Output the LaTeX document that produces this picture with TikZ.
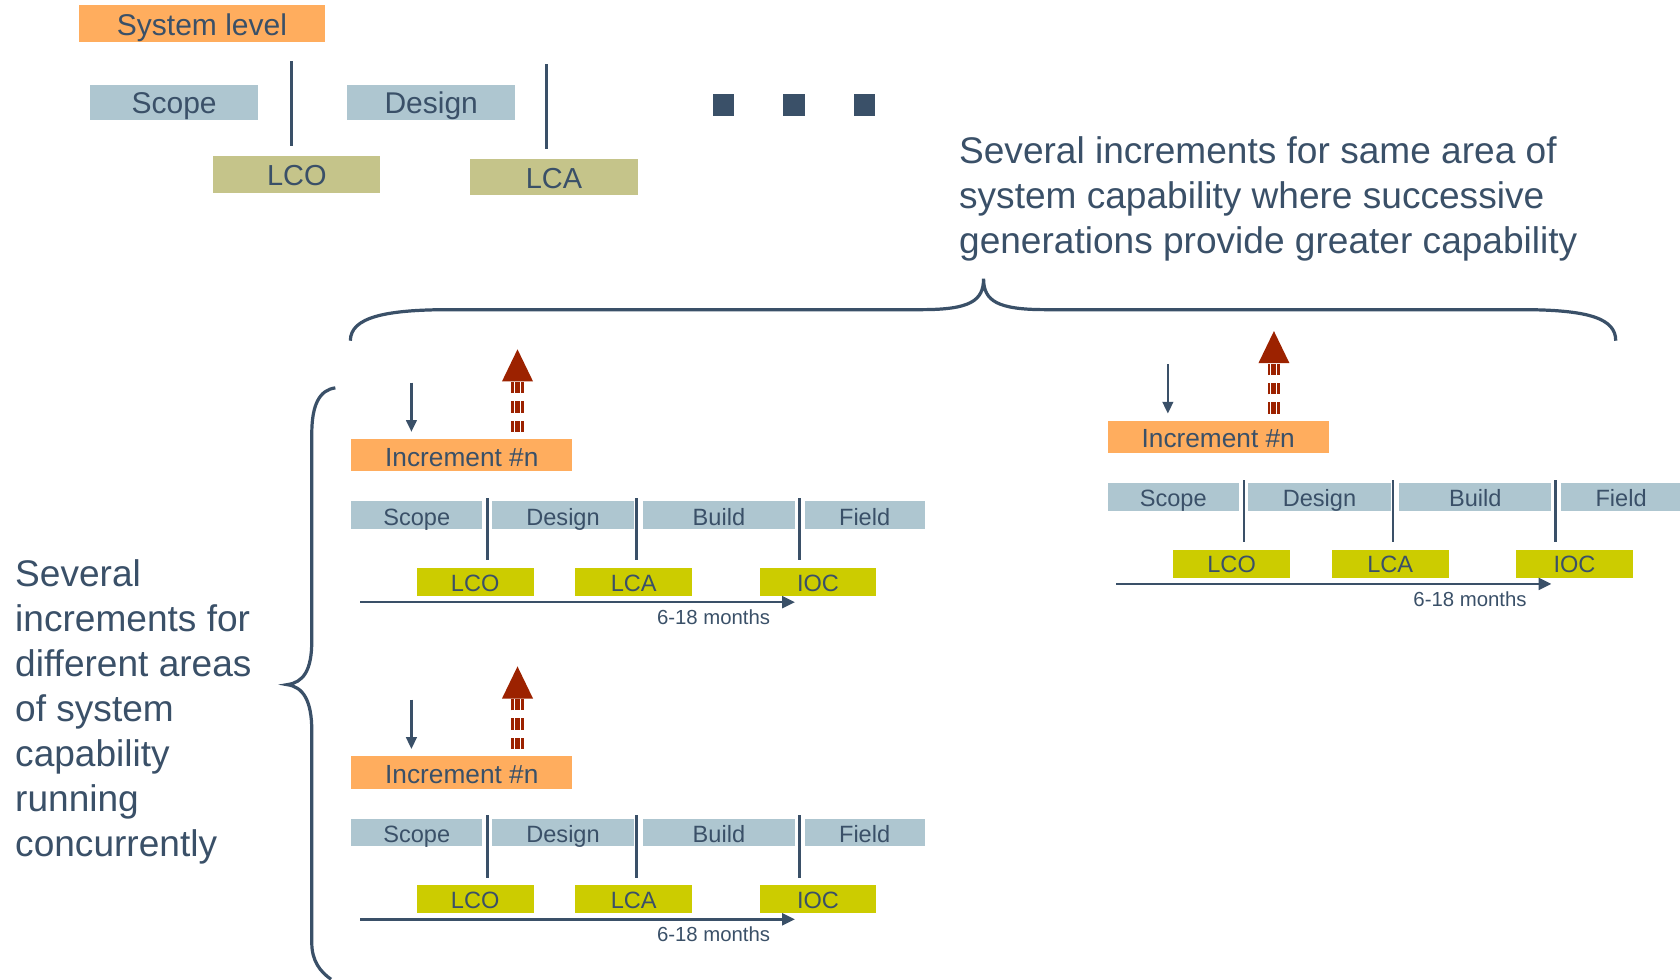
\documentclass[tikz,border=0pt]{standalone}
\usepackage{fontspec}
\setmainfont{Liberation Sans}
\usetikzlibrary{arrows.meta}

\definecolor{ink}{HTML}{3A5068}
\definecolor{incorange}{HTML}{FFAD5E}
\definecolor{phaseblue}{HTML}{AEC6D0}
\definecolor{olivems}{HTML}{C5C48A}
\definecolor{yellowms}{HTML}{CCCC00}
\definecolor{deepred}{HTML}{9C2200}

\newcommand\fs[1]{\fontsize{#1}{#1}\selectfont}

\tikzset{
  box/.style={rectangle, inner sep=0pt, draw=none, text=ink, text depth=0pt},
  sysbox/.style={box, fill=incorange, font=\fs{28}, text height=21.5pt},
  topphase/.style={box, fill=phaseblue, font=\fs{28}, text height=21.5pt},
  topms/.style={box, fill=olivems, font=\fs{27}, text height=21pt},
  incbox/.style={box, fill=incorange, font=\fs{24.5}, text height=20pt},
  phase/.style={box, fill=phaseblue, font=\fs{22}, text height=18pt},
  msbox/.style={box, fill=yellowms, font=\fs{22}, text height=17.5pt},
  monthlabel/.style={inner sep=0pt, text=ink, font=\fs{19}},
  dotbox/.style={rectangle, inner sep=0pt, fill=ink, minimum size=20pt},
  sepline/.style={draw=ink, line width=2.5pt},
  inarrow/.style={draw=ink, line width=2pt, -{Triangle[width=10pt,length=11pt]}},
  timeline/.style={draw=ink, line width=2.5pt, -{Triangle[width=11pt,length=12pt]}},
  redshaft/.style={draw=deepred, line width=12pt, dash pattern=on 10.5pt off 7.5pt},
  shaftgap/.style={draw=white, line width=0.9pt},
  bracepath/.style={draw=ink, line width=3pt},
  bigtext/.style={inner sep=0pt, text=ink, align=left, font=\fontsize{34.6}{42}\selectfont},
}

% One increment: its phases, gates, milestones, time line and in/out arrows
\newcommand\incgroup[3]{%
\begin{scope}[shift={(#2,#3)}]
  \node[incbox, minimum width=206pt, minimum height=30pt] (#1-inc) at (431,425) {Increment \#n};
  \node[phase, minimum width=122pt, minimum height=26pt] (#1-scope) at (389,481) {Scope};
  \node[phase, minimum width=133pt, minimum height=26pt] (#1-design) at (525.5,481) {Design};
  \node[phase, minimum width=142pt, minimum height=26pt] (#1-build) at (671,481) {Build};
  \node[phase, minimum width=112pt, minimum height=26pt] (#1-field) at (807,481) {Field};
  \node[msbox, minimum width=109pt, minimum height=26pt] (#1-lco) at (443.5,543) {LCO};
  \node[msbox, minimum width=109pt, minimum height=26pt] (#1-lca) at (591.5,543) {LCA};
  \node[msbox, minimum width=109pt, minimum height=26pt] (#1-ioc) at (763.5,543) {IOC};
  \node[monthlabel] (#1-months) at (666,576) {6-18 months};
  % gates between phases
  \coordinate (#1-g1t) at (455,465); \coordinate (#1-g1b) at (455,523);
  \coordinate (#1-g2t) at (594,465); \coordinate (#1-g2b) at (594,523);
  \coordinate (#1-g3t) at (746,465); \coordinate (#1-g3b) at (746,523);
  \draw[sepline] (#1-g1t) -- (#1-g1b);
  \draw[sepline] (#1-g2t) -- (#1-g2b);
  \draw[sepline] (#1-g3t) -- (#1-g3b);
  % time line
  \coordinate (#1-t0) at (336,562); \coordinate (#1-t1) at (742,562);
  \draw[timeline] (#1-t0) -- (#1-t1);
  % incoming arrow
  \coordinate (#1-ins) at (384,357); \coordinate (#1-ine) at (384,403);
  \draw[inarrow] (#1-ins) -- (#1-ine);
  % outgoing striped arrow
  \coordinate (#1-outb) at (483,403);
  \coordinate (#1-outh) at (483,356);
  \coordinate (#1-outt) at (483,326);
  \draw[redshaft] (#1-outb) -- (#1-outh);
  \draw[shaftgap] ([xshift=-2.8pt]#1-outb) -- ([xshift=-2.8pt]#1-outh);
  \draw[shaftgap] ([xshift=2.8pt]#1-outb) -- ([xshift=2.8pt]#1-outh);
  \fill[deepred] (#1-outt) -- ([xshift=-14.5pt]#1-outh) -- ([xshift=14.5pt]#1-outh) -- cycle;
\end{scope}}

\begin{document}
\begin{tikzpicture}[x=1pt,y=-1pt]
\useasboundingbox (0,0) rectangle (1568,914);

% system level
\node[sysbox, minimum width=229pt, minimum height=34pt] (sys) at (188.5,22) {System level};
\node[topphase, minimum width=157pt, minimum height=33pt] (sscope) at (162.5,95.5) {Scope};
\node[topphase, minimum width=157pt, minimum height=33pt] (sdesign) at (402.5,95.5) {Design};
\node[topms, minimum width=156pt, minimum height=34pt] (slco) at (277,163) {LCO};
\node[topms, minimum width=156pt, minimum height=34pt] (slca) at (517,165) {LCA};
\coordinate (sg1t) at (272,57); \coordinate (sg1b) at (272,136);
\coordinate (sg2t) at (510,60); \coordinate (sg2b) at (510,139);
\draw[sepline] (sg1t) -- (sg1b);
\draw[sepline] (sg2t) -- (sg2b);
\node[dotbox] (dot1) at (675,98) {};
\node[dotbox] (dot2) at (741,98) {};
\node[dotbox] (dot3) at (807,98) {};

% captions
\node[bigtext, anchor=north west] (succ) at (895,127)
  {Several increments for same area of\\system capability where successive\\generations provide greater capability};
\node[bigtext, anchor=north west] (conc) at (14,522)
  {Several\\increments for\\different areas\\of system\\capability\\running\\concurrently};

% braces
\draw[bracepath] (327,318) .. controls (327,296) and (360,289) .. (420,289)
  -- (860,289) .. controls (905,289) and (918,281) .. (918,260)
  .. controls (918,281) and (931,289) .. (976,289)
  -- (1420,289) .. controls (1485,289) and (1508,298) .. (1508,318);
\draw[bracepath] (313,362) .. controls (298,364) and (291,378) .. (291,405)
  -- (291,598) .. controls (291,626) and (283,637) .. (268,639)
  .. controls (283,641) and (291,654) .. (291,682)
  -- (291,880) .. controls (291,897) and (299,907) .. (309,914);

% increments
\incgroup{ia}{0}{0}
\incgroup{ib}{0}{296}
\incgroup{ic}{706}{-17}

\end{tikzpicture}
\end{document}
